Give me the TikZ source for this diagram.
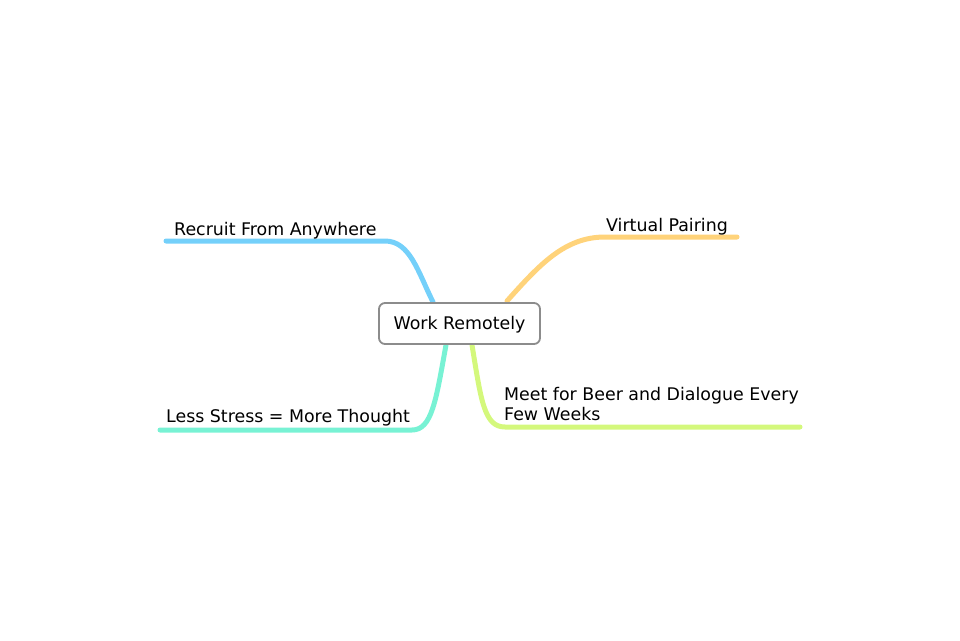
\documentclass[tikz,border=0pt]{standalone}
\usepackage{fontspec}
\setmainfont{DejaVu Sans}
\definecolor{cblue}{RGB}{116,208,250}
\definecolor{corange}{RGB}{255,211,122}
\definecolor{cteal}{RGB}{120,242,212}
\definecolor{cgreen}{RGB}{212,248,124}
\definecolor{cborder}{RGB}{140,140,140}
\begin{document}
\begin{tikzpicture}[x=1pt,y=-1pt,
  branch/.style={line width=5pt,line cap=round},
  lbl/.style={anchor=base west,inner sep=0pt,font=\fontsize{17.4}{20}\selectfont,text=black},
  central/.style={draw=cborder,line width=1.8pt,rounded corners=6pt,fill=white,minimum width=161pt,minimum height=41pt,inner sep=0pt,text height=13pt,text depth=1pt,font=\fontsize{17.4}{20}\selectfont}]
\useasboundingbox (0,0) rectangle (960,640);
% branch end points
\coordinate (b1) at (433,302);
\coordinate (b1e) at (166,241);
\coordinate (o1) at (507,301);
\coordinate (o1e) at (737,237);
\coordinate (t1) at (446,345);
\coordinate (t1e) at (160,430);
\coordinate (g1) at (472,345);
\coordinate (g1e) at (800,427);
\draw[branch,cblue] (b1e) -- (385,241) .. controls (410,241) and (418,272) .. (b1);
\draw[branch,corange] (o1) .. controls (540,264) and (565,237) .. (605,237) -- (o1e);
\draw[branch,cteal] (t1) .. controls (436,400) and (432,430) .. (412,430) -- (t1e);
\draw[branch,cgreen] (g1) .. controls (481,400) and (484,427) .. (505,427) -- (g1e);
\node[central] (c) at (459.5,323.5) {Work Remotely};
\node[lbl] (l1) at (174,235) {Recruit From Anywhere};
\node[lbl] (l2) at (606,231) {Virtual Pairing};
\node[lbl] (l3) at (166,422) {Less Stress = More Thought};
\node[lbl,align=left,anchor=north west] (l4) at (504,387) {Meet for Beer and Dialogue Every\\Few Weeks};
\end{tikzpicture}
\end{document}
